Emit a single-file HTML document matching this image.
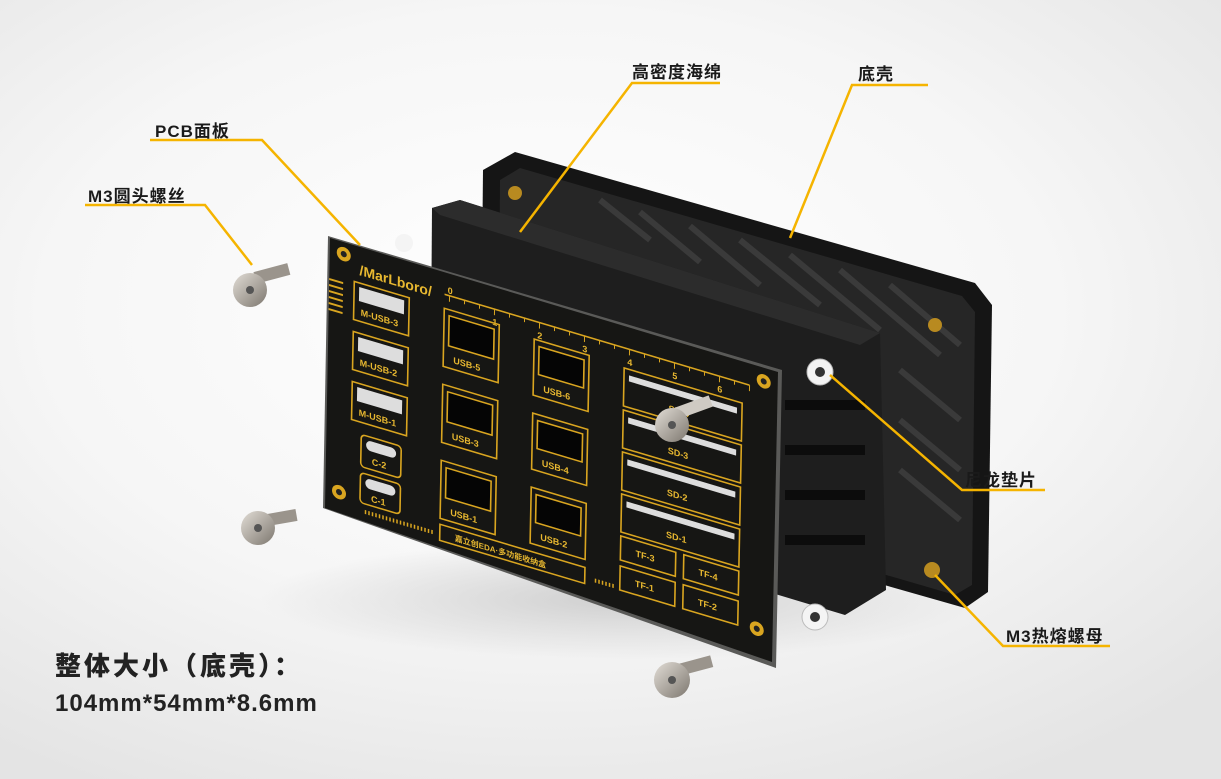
<!DOCTYPE html>
<html><head><meta charset="utf-8"><style>
html,body{margin:0;padding:0;}
body{width:1221px;height:779px;overflow:hidden;position:relative;
background:radial-gradient(ellipse 75% 70% at 45% 40%,#ffffff 0%,#f6f6f6 55%,#e4e4e4 100%);
font-family:"Liberation Sans","Noto Sans CJK SC",sans-serif;}
.lbl{position:absolute;font-weight:bold;color:#1a1a1a;font-size:17px;letter-spacing:1px;white-space:nowrap;}
.big{position:absolute;font-weight:900;color:#222;white-space:nowrap;}
svg{position:absolute;left:0;top:0;}
.pcb text{fill:#e8b830;stroke:none;}
</style></head><body>
<svg width="1221" height="779" viewBox="0 0 1221 779">
<defs>
<radialGradient id="sh" cx="0.5" cy="0.5" r="0.5"><stop offset="0" stop-color="#cfcfcf"/><stop offset="1" stop-color="#cfcfcf" stop-opacity="0"/></radialGradient>
<linearGradient id="scr" x1="0" y1="0" x2="1" y2="1"><stop offset="0" stop-color="#e2ddd6"/><stop offset="1" stop-color="#7d776f"/></linearGradient>
</defs>
<ellipse cx="620" cy="600" rx="360" ry="60" fill="url(#sh)"/>
<!-- shell -->
<polygon points="483,170 515,152 975,283 992,305 988,592 965,608 480,470" fill="#151515"/>
<polygon points="500,180 520,168 962,296 975,312 972,585 955,595 498,462" fill="#262626"/>
<g stroke="#3a3a3a" stroke-width="6">
<line x1="600" y1="200" x2="650" y2="240"/><line x1="640" y1="212" x2="700" y2="262"/><line x1="690" y1="226" x2="760" y2="285"/>
<line x1="740" y1="240" x2="820" y2="305"/><line x1="790" y1="255" x2="880" y2="330"/><line x1="840" y1="270" x2="940" y2="355"/>
<line x1="890" y1="285" x2="960" y2="345"/><line x1="900" y1="370" x2="960" y2="420"/><line x1="900" y1="420" x2="960" y2="470"/><line x1="900" y1="470" x2="960" y2="520"/>
</g>
<circle cx="515" cy="193" r="7" fill="#b88a20"/><circle cx="935" cy="325" r="7" fill="#b88a20"/><circle cx="932" cy="570" r="8" fill="#b88a20"/>
<!-- foam -->
<polygon points="432,208 460,200 880,333 886,590 845,615 430,490" fill="#1e1e1e"/>
<polygon points="432,208 460,200 880,333 860,345 440,215" fill="#2c2c2c"/>
<g fill="#0c0c0c"><rect x="785" y="400" width="80" height="10"/><rect x="785" y="445" width="80" height="10"/><rect x="785" y="490" width="80" height="10"/><rect x="785" y="535" width="80" height="10"/></g>
<!-- washers -->
<circle cx="820" cy="372" r="13" fill="#f4f4f4" stroke="#bbb"/><circle cx="820" cy="372" r="5" fill="#333"/>
<circle cx="815" cy="617" r="13" fill="#f4f4f4" stroke="#bbb"/><circle cx="815" cy="617" r="5" fill="#333"/>
<circle cx="404" cy="243" r="9" fill="#f4f4f4"/>
<!-- PCB -->
<polygon points="328,236 782,370 776,668 323,508" fill="#5a5a58"/>
<polygon points="330,238 778,372 772,662 325,508" fill="#161614"/>
<g class="pcb" transform="matrix(1,0.298,-0.02,1,330,238)" fill="none" stroke="#d9a520" stroke-width="1.6" font-family="Liberation Sans,Noto Sans CJK SC,sans-serif" font-weight="bold">
<circle cx="14" cy="12" r="7" fill="#d9a520" stroke="none"/><circle cx="14" cy="12" r="3" fill="#222" stroke="none"/>
<circle cx="434" cy="14" r="7" fill="#d9a520" stroke="none"/><circle cx="434" cy="14" r="3" fill="#222" stroke="none"/>
<circle cx="14" cy="250" r="7" fill="#d9a520" stroke="none"/><circle cx="14" cy="250" r="3" fill="#222" stroke="none"/>
<circle cx="432" cy="262" r="7" fill="#d9a520" stroke="none"/><circle cx="432" cy="262" r="3" fill="#222" stroke="none"/>
<text x="30" y="28" font-size="14">/MarLboro/</text>
<line x1="115" y1="22" x2="420" y2="22"/>
<g stroke-width="1"><path d="M120,22v6M135,22v4M150,22v4M165,22v6M180,22v4M195,22v4M210,22v6M225,22v4M240,22v4M255,22v6M270,22v4M285,22v4M300,22v6M315,22v4M330,22v4M345,22v6M360,22v4M375,22v4M390,22v6M405,22v4M420,22v6"/></g>
<g font-size="9"><text x="118" y="20">0</text><text x="163" y="38">1</text><text x="208" y="38">2</text><text x="253" y="38">3</text><text x="298" y="38">4</text><text x="343" y="38">5</text><text x="388" y="38">6</text></g>
<g fill="#d9a520" stroke="none"><rect x="0" y="40" width="14" height="2"/><rect x="0" y="46" width="14" height="2"/><rect x="0" y="52" width="14" height="2"/><rect x="0" y="58" width="14" height="2"/><rect x="0" y="64" width="14" height="2"/><rect x="0" y="70" width="14" height="2"/></g>
<g font-size="9">
<rect x="25" y="36" width="55" height="38"/><rect x="30" y="40" width="45" height="14" fill="#ddd" stroke="none"/><text x="32" y="68">M-USB-3</text>
<rect x="25" y="86" width="55" height="38"/><rect x="30" y="90" width="45" height="14" fill="#ddd" stroke="none"/><text x="32" y="118">M-USB-2</text>
<rect x="25" y="136" width="55" height="38"/><rect x="30" y="140" width="45" height="14" fill="#ddd" stroke="none"/><text x="32" y="168">M-USB-1</text>
<rect x="35" y="186" width="40" height="32" rx="4"/><rect x="40" y="190" width="30" height="10" rx="5" fill="#ddd" stroke="none"/><text x="46" y="213">C-2</text>
<rect x="35" y="224" width="40" height="30" rx="4"/><rect x="40" y="228" width="30" height="10" rx="5" fill="#ddd" stroke="none"/><text x="46" y="250">C-1</text>
<rect x="115" y="36" width="55" height="58"/><rect x="120" y="42" width="45" height="30" fill="#050505"/><text x="125" y="88">USB-5</text>
<rect x="115" y="112" width="55" height="58"/><rect x="120" y="118" width="45" height="30" fill="#050505"/><text x="125" y="164">USB-3</text>
<rect x="115" y="188" width="55" height="58"/><rect x="120" y="194" width="45" height="30" fill="#050505"/><text x="125" y="240">USB-1</text>
<rect x="205" y="40" width="55" height="56"/><rect x="210" y="46" width="45" height="28" fill="#050505"/><text x="215" y="90">USB-6</text>
<rect x="205" y="114" width="55" height="56"/><rect x="210" y="120" width="45" height="28" fill="#050505"/><text x="215" y="164">USB-4</text>
<rect x="205" y="188" width="55" height="56"/><rect x="210" y="194" width="45" height="28" fill="#050505"/><text x="215" y="238">USB-2</text>
<rect x="115" y="252" width="145" height="16"/><text x="130" y="264" font-size="8">嘉立创EDA·多功能收纳盒</text>
<rect x="295" y="42" width="118" height="38"/><rect x="300" y="48" width="108" height="6" fill="#ddd" stroke="none"/><text x="340" y="72">SD-4</text>
<rect x="295" y="84" width="118" height="38"/><rect x="300" y="90" width="108" height="6" fill="#ddd" stroke="none"/><text x="340" y="114">SD-3</text>
<rect x="295" y="126" width="118" height="38"/><rect x="300" y="132" width="108" height="6" fill="#ddd" stroke="none"/><text x="340" y="156">SD-2</text>
<rect x="295" y="168" width="118" height="38"/><rect x="300" y="174" width="108" height="6" fill="#ddd" stroke="none"/><text x="340" y="198">SD-1</text>
<rect x="295" y="210" width="55" height="24"/><text x="310" y="226">TF-3</text>
<rect x="358" y="210" width="55" height="24"/><text x="373" y="226">TF-4</text>
<rect x="295" y="240" width="55" height="24"/><text x="310" y="256">TF-1</text>
<rect x="358" y="240" width="55" height="24"/><text x="373" y="256">TF-2</text>
</g>
<path d="M40,262h70M270,262h20" stroke-width="4" stroke-dasharray="1.5 2"/>
</g>
<!-- screws -->
<g>
<rect x="255" y="272" width="35" height="12" fill="#9a948c" transform="rotate(-15 255 278)"/>
<circle cx="250" cy="290" r="17" fill="url(#scr)"/><circle cx="250" cy="290" r="4" fill="#555"/>
<rect x="262" y="515" width="35" height="12" fill="#9a948c" transform="rotate(-10 262 521)"/>
<circle cx="258" cy="528" r="17" fill="url(#scr)"/><circle cx="258" cy="528" r="4" fill="#555"/>
<rect x="675" y="665" width="38" height="12" fill="#9a948c" transform="rotate(-15 675 671)"/>
<circle cx="672" cy="680" r="18" fill="url(#scr)"/><circle cx="672" cy="680" r="4" fill="#555"/>
<rect x="675" y="408" width="38" height="12" fill="#cfcac3" transform="rotate(-20 675 414)"/>
<circle cx="672" cy="425" r="17" fill="url(#scr)"/><circle cx="672" cy="425" r="4" fill="#555"/>
</g>
<!-- leader lines -->
<g stroke="#f5b400" stroke-width="2.5" fill="none">
<polyline points="720,83 632,83 520,232"/>
<polyline points="928,85 852,85 790,238"/>
<polyline points="150,140 262,140 360,245"/>
<polyline points="85,205 205,205 252,265"/>
<polyline points="1045,490 962,490 830,375"/>
<polyline points="1110,646 1003,646 935,575"/>
</g>
</svg>
<div class="lbl" style="left:632px;top:58px;">高密度海绵</div>
<div class="lbl" style="left:858px;top:60px;">底壳</div>
<div class="lbl" style="left:155px;top:117px;">PCB面板</div>
<div class="lbl" style="left:88px;top:182px;">M3圆头螺丝</div>
<div class="lbl" style="left:965px;top:466px;">尼龙垫片</div>
<div class="lbl" style="left:1006px;top:622px;">M3热熔螺母</div>
<div class="big" style="left:55px;top:646px;font-size:26px;letter-spacing:3px;">整体大小（底壳）：</div>
<div class="big" style="left:55px;top:690px;font-size:24px;letter-spacing:1px;">104mm*54mm*8.6mm</div>
</body></html>
